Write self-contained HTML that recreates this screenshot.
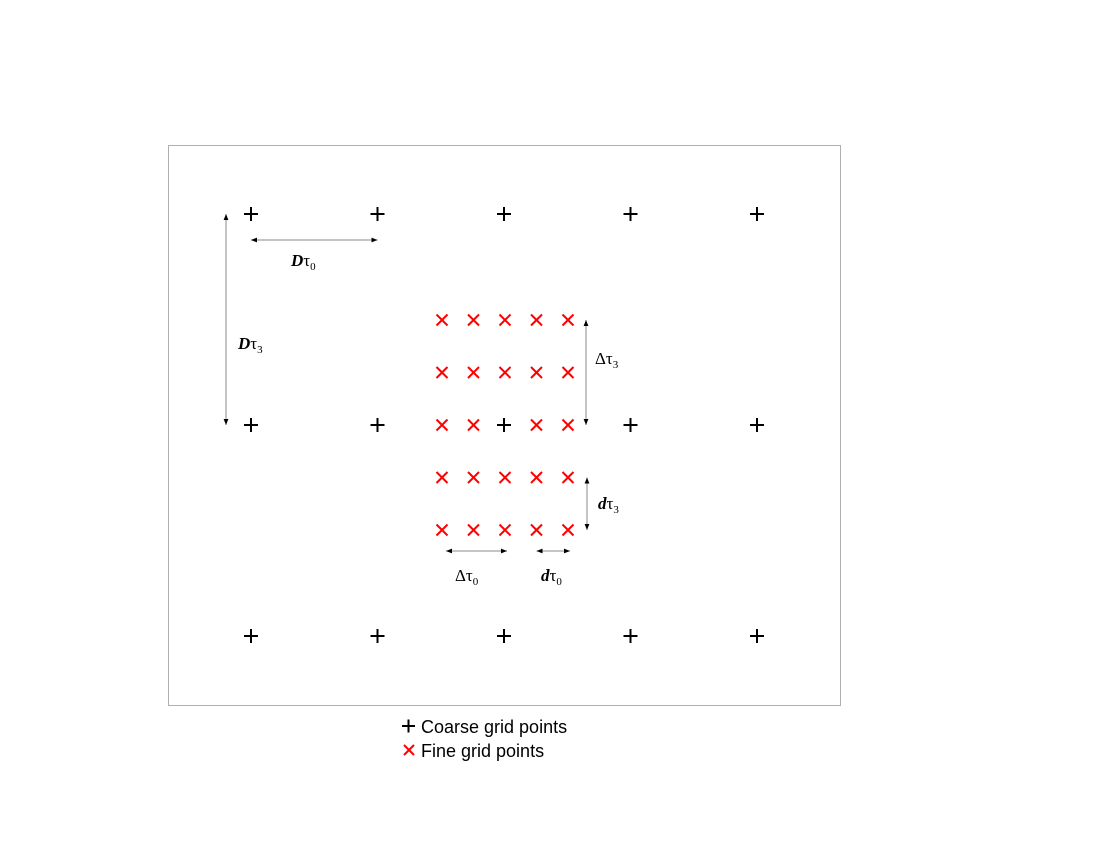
<!DOCTYPE html>
<html><head><meta charset="utf-8"><style>
html,body{margin:0;padding:0;background:#fff;width:1100px;height:850px;overflow:hidden}
svg{display:block}
.lbl{font-family:"Liberation Serif",serif;font-size:17px}
.leg{font-family:"Liberation Sans",sans-serif;font-size:18px}
</style></head><body>
<svg id="chart" width="1100" height="850">
<defs>
<marker id="ah" viewBox="0 0 10 10" refX="10" refY="5" markerWidth="6" markerHeight="6" orient="auto-start-reverse"><path d="M0,1 L10,5 L0,9 z" fill="#000"/></marker>
</defs>
<rect x="168.5" y="145.5" width="672" height="560" fill="none" stroke="#b0b0b0"/>
<g id="fine"></g>
<g id="coarse"></g>
<g id="arrows" stroke="#888" stroke-width="1" fill="none"></g>
<text class="lbl" x="291" y="266"><tspan font-weight="bold" font-style="italic">D</tspan>τ<tspan font-size="11" dy="4">0</tspan></text>
<text class="lbl" x="238" y="349"><tspan font-weight="bold" font-style="italic">D</tspan>τ<tspan font-size="11" dy="4">3</tspan></text>
<text class="lbl" x="595" y="364">Δτ<tspan font-size="11" dy="4">3</tspan></text>
<text class="lbl" x="598" y="509"><tspan font-weight="bold" font-style="italic">d</tspan>τ<tspan font-size="11" dy="4">3</tspan></text>
<text class="lbl" x="455" y="581">Δτ<tspan font-size="11" dy="4">0</tspan></text>
<text class="lbl" x="541" y="581"><tspan font-weight="bold" font-style="italic">d</tspan>τ<tspan font-size="11" dy="4">0</tspan></text>
<g>
<g><path d="M402,726 h13 M408.5,719.5 v13" stroke="#000" stroke-width="2"/><text class="leg" x="421" y="733">Coarse grid points</text></g>
<g><path d="M404,745 l10,10 M414,745 l-10,10" stroke="#f00" stroke-width="2"/><text class="leg" x="421" y="757">Fine grid points</text></g>
</g>
</svg>
<script>
const coarseX=[0,1,2,3,4];
const coarseY=[0,1,2];
const fineX=[-2,-1,0,1,2];
const fineY=[-2,-1,0,1,2];
const sx=v=>251+v*126.5;
const sy=v=>214+v*211;
const fx=v=>505+v*31.5;
const fy=v=>425+v*52.5;
const NS='http://www.w3.org/2000/svg';
const cg=document.getElementById('coarse');
coarseY.forEach(j=>coarseX.forEach(i=>{
 const p=document.createElementNS(NS,'path');
 const x=sx(i),y=sy(j);
 p.setAttribute('d',`M${x-7},${y} h14 M${x},${y-7} v14`);
 p.setAttribute('stroke','#000');p.setAttribute('stroke-width','2');
 
 
 cg.appendChild(p);
}));
const fg=document.getElementById('fine');
fineY.forEach(j=>fineX.forEach(i=>{
 if(i===0&&j===0) return;
 const p=document.createElementNS(NS,'path');
 const x=fx(i),y=fy(j);
 p.setAttribute('d',`M${x-5.5},${y-5.5} l11,11 M${x+5.5},${y-5.5} l-11,11`);
 p.setAttribute('stroke','#f00');p.setAttribute('stroke-width','2');
 
 
 fg.appendChild(p);
}));
const ag=document.getElementById('arrows');
const arrows=[
 ['arrow-D-tau0',sx(0),240,sx(1),240],
 ['arrow-D-tau3',226,sy(0),226,sy(1)],
 ['arrow-Delta-tau3',586,fy(-2),586,fy(0)],
 ['arrow-d-tau3',587,fy(1),587,fy(2)],
 ['arrow-Delta-tau0',fx(-2)+4,551,fx(0)+2,551],
 ['arrow-d-tau0',fx(1),551,fx(2)+2,551]
];
arrows.forEach(a=>{
 const l=document.createElementNS(NS,'line');
 l.setAttribute('x1',a[1]);l.setAttribute('y1',a[2]);l.setAttribute('x2',a[3]);l.setAttribute('y2',a[4]);
 l.setAttribute('marker-start','url(#ah)');l.setAttribute('marker-end','url(#ah)');
 
 
 ag.appendChild(l);
});
</script>
</body></html>
